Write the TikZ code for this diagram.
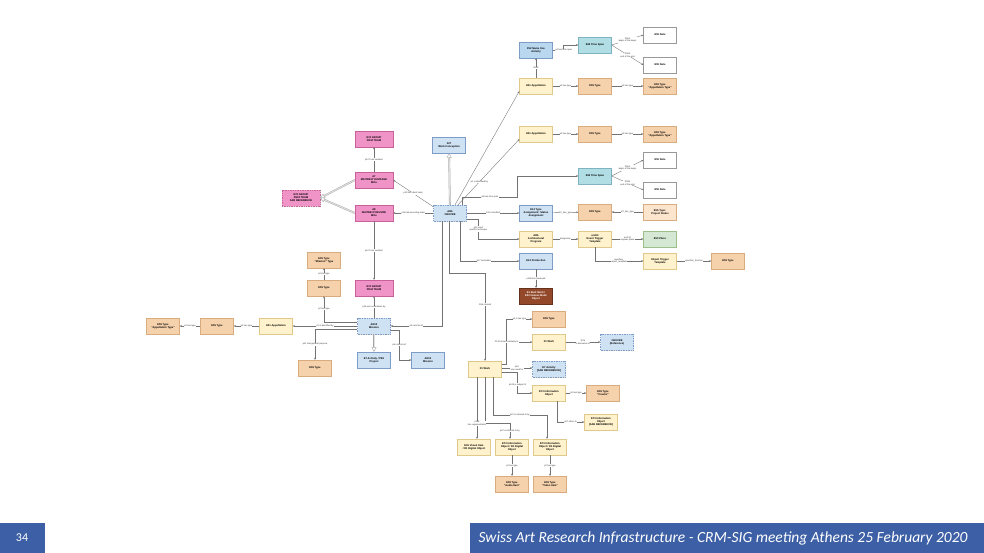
\documentclass[tikz,border=0pt]{standalone}
\usepackage{fontspec}
\setmainfont{Liberation Sans}
\newfontfamily\footfont{Carlito}
\usetikzlibrary{arrows.meta,calc,shadows}
\definecolor{cblue}{HTML}{CFE2F3}
\definecolor{cbluedk}{HTML}{7D9CC8}
\definecolor{cf52}{HTML}{B9D7EE}
\definecolor{cteal}{HTML}{B1DDE5}
\definecolor{ctealdk}{HTML}{7FB3C2}
\definecolor{cyel}{HTML}{FFF2CC}
\definecolor{cyeldk}{HTML}{E0C98A}
\definecolor{ctan}{HTML}{F6D2AC}
\definecolor{ctandk}{HTML}{D9AC80}
\definecolor{ctanl}{HTML}{FCE5CD}
\definecolor{cgreen}{HTML}{D5E8D4}
\definecolor{cgreendk}{HTML}{9CC08A}
\definecolor{cpink}{HTML}{F093C6}
\definecolor{cpinkdk}{HTML}{C8609A}
\definecolor{cbrown}{HTML}{93482A}
\definecolor{footblue}{HTML}{3C5FA5}
\tikzset{
  box/.style={rectangle, minimum width=33pt, minimum height=16pt, inner sep=0.4pt,
    align=center, font=\fontsize{2.6}{3.0}\selectfont\bfseries, line width=0.3pt,
    drop shadow={shadow xshift=0.6pt, shadow yshift=-0.6pt, fill=black!40, opacity=0.4}},
  bl/.style={box, fill=cblue, draw=cbluedk},
  blf/.style={box, fill=cf52, draw=cbluedk},
  tl/.style={box, fill=cteal, draw=ctealdk},
  yl/.style={box, fill=cyel, draw=cyeldk},
  tn/.style={box, fill=ctan, draw=ctandk},
  tnl/.style={box, fill=ctanl, draw=ctandk},
  gr/.style={box, fill=cgreen, draw=cgreendk},
  pk/.style={box, minimum width=38pt, fill=cpink, draw=cpinkdk},
  br/.style={box, fill=cbrown, draw=cbrown!70!black, text=white},
  wt/.style={box, fill=white, draw=black!40},
  dsh/.style={dash pattern=on 1pt off 0.7pt},
  lbl/.style={font=\fontsize{2.2}{2.6}\selectfont, fill=white, inner sep=0.3pt, align=center, text=black!80},
  arr/.style={draw=black!55, line width=0.35pt, -{Stealth[length=2.2pt,width=1.8pt]}},
  subcls/.style={draw=black!35, line width=0.4pt, double=black!12, double distance=1pt,
    -{Triangle[open, length=4.5pt, width=5pt, fill=white]}}
}
\begin{document}
\begin{tikzpicture}[x=1pt,y=-1pt]
\useasboundingbox (0,0) rectangle (984,553);
\fill[white] (0,0) rectangle (984,553);

% ---------- top right ----------
\node[blf] (F52) at (536,50) {F52 Name Use\\Activity};
\node[tl] (TS1) at (595,45) {E52 Time Span};
\node[wt] (D1) at (660,35) {E50 Date};
\node[wt] (D2) at (660,65) {E50 Date};
\node[yl] (E41a) at (536,86) {E41 Appellation};
\node[tn] (T1) at (595,86) {E55 Type};
\node[tn] (TA1) at (660,86) {E55 Type\\``Appellation Type''};
\node[yl] (E41b) at (536,134) {E41 Appellation};
\node[tn] (T2) at (595,134) {E55 Type};
\node[tn] (TA2) at (660,134) {E55 Type\\``Appellation Type''};
\node[tl] (TS2) at (595,176) {E52 Time Span};
\node[wt] (D3) at (660,160) {E50 Date};
\node[wt] (D4) at (660,190) {E50 Date};

% ---------- centre ----------
\node[bl] (F27) at (449,145) {F27\\Work Conception};
\node[bl,dsh] (OEU) at (450,213) {AR6\\OEUVRE};
\node[bl] (E13) at (536,213) {E13 Type\\Assignment: Status\\Assignment};
\node[tn] (T3) at (595,212) {E55 Type};
\node[tnl] (TPS) at (660,212) {E55 Type:\\Project Status};
\node[yl] (AR6) at (536,239) {AR6\\Architectural\\Program};
\node[yl] (ARC) at (595,239) {arcE3\\Event Trigger\\Template};
\node[gr] (PL) at (660,239) {E53 Place};
\node[yl] (OTT) at (660,261) {Object Trigger\\Template};
\node[tn] (T4) at (728,261) {E55 Type};
\node[bl] (E12) at (536,261) {E12 Production};
\node[br] (E1) at (536,296) {E1 Built Work /\\E22 Human-Made\\Object};
\node[tn] (T5) at (549,319) {E55 Type};
\node[yl] (F1m) at (549,342) {F1 Work};
\node[bl,dsh] (OREF) at (617,342) {OEUVRE\\(Reference)};
\node[yl] (F1) at (485,369) {F1 Work};
\node[bl,dsh] (E7S) at (549,369) {E7 Activity\\{[SAR REFERENCE]}};
\node[yl] (E73a) at (549,393) {E73 Information\\Object};
\node[tn] (TC) at (603,393) {E55 Type\\``Creator''};
\node[yl] (E73S) at (601,422) {E73 Information\\Object\\{[SAR REFERENCE]}};
\node[yl] (E36) at (474,447) {E36 Visual Item\\/ D1 Digital Object};
\node[yl] (E73l) at (512,447) {E73 Information\\Object / D1 Digital\\Object};
\node[yl] (E73r) at (550,447) {E73 Information\\Object / D1 Digital\\Object};
\node[tn] (TAu) at (512,484) {E55 Type\\``Audio Item''};
\node[tn] (TV) at (550,484) {E55 Type\\``Video Item''};

% ---------- pink ----------
\node[pk] (G1) at (374,139) {E74 GROUP\\PE34 TEAM};
\node[pk] (A7) at (374,180) {A7\\MAITRE D'OUVRAGE\\MOa};
\node[pk] (A8) at (374,213) {A8\\MAITRE D'OEUVRE\\MOe};
\node[pk,dsh] (GS) at (301,198) {E74 GROUP\\PE34 TEAM\\SAR REFERENCE};
\node[pk] (G2) at (374,288) {E74 GROUP\\PE34 TEAM};

% ---------- mission ----------
\node[tn] (TMT) at (324,260) {E55 Type\\``Mission'' Type};
\node[tn] (TM) at (324,288) {E55 Type};
\node[bl,dsh] (MIS) at (374,326) {AR10\\Mission};
\node[bl] (E7P) at (374,360) {E7 Activity / PE1\\Project};
\node[bl] (MIS2) at (428,360) {AR10\\Mission};
\node[yl] (E41c) at (276,326) {E41 Appellation};
\node[tn] (TL1) at (217,326) {E55 Type};
\node[tn] (TLA) at (163,326) {E55 Type\\``Appellation Type''};
\node[tn] (TG) at (315,368) {E55 Type};

% ---------- connectors: top ----------
\draw[arr] (E41a) -- node[lbl]{R64i} (F52);
\draw[arr] (F52.east) -- ++(11,0) node[lbl]{p4 has time span} |- (TS1.west);
\draw[arr] (TS1.east) -- node[lbl]{P82a\\begin of the begin} (D1.west);
\draw[arr] (TS1.east) -- node[lbl]{P82b\\end of the end} (D2.west);
\draw[arr] (E41a) -- node[lbl]{p2 has type} (T1);
\draw[arr] (T1) -- node[lbl]{p2 has type} (TA1);
\draw[arr] (E41b) -- node[lbl]{p2 has type} (T2);
\draw[arr] (T2) -- node[lbl]{p2 has type} (TA2);
\draw[arr] (TS2.east) -- node[lbl]{P82a\\begin of the begin} (D3.west);
\draw[arr] (TS2.east) -- node[lbl]{P82b\\end of the end} (D4.west);

% ---------- connectors: OEUVRE ----------
\draw[subcls] (OEU) -- (F27);
\draw[arr] ($(OEU.north)+(5,0)$) -- ($(E41a.south west)+(0,-3)$);
\draw[arr] ($(OEU.north)+(8,0)$) -- node[lbl,pos=0.35]{p1 is identified by} ($(E41b.south west)+(0,-3)$);
\draw[arr] ($(OEU.north east)+(-4,0)$) |- node[lbl,pos=0.75]{p4 has time span} ($(TS2.west)+(-61,21)$) |- (TS2.west);
\draw[arr] (OEU.east) -- node[lbl]{P41 classified} (E13.west);
\draw[arr] ($(OEU.east)+(0,6)$) -| node[lbl,pos=0.75]{p32 used\\specific technique} ($(AR6.west)+(-41,0)$) -- (AR6.west);
\draw[arr] ($(OEU.south)+(10,0)$) |- node[lbl,pos=0.7]{p17 motivated} (E12.west);
\draw[arr] ($(OEU.south)+(-1,0)$) |- ($(F1.north)+(0,-88)$) -- node[lbl,pos=0.36]{R16 created} (F1.north);
\draw[arr] ($(OEU.south)+(-8,0)$) |- node[lbl,pos=0.75]{p9 consists of} (MIS.east);

% ---------- connectors: pink ----------
\draw[arr] ($(OEU.north west)+(0,2)$) -- node[lbl]{p10 has client team} (A7.east);
\draw[arr] (OEU.west) -- node[lbl]{p11 had executing team} (A8.east);
\draw[arr] (A7) -- node[lbl]{p107 has member} (G1);
\draw[arr] (A8) -- node[lbl]{p107 has member} (G2);
\draw[subcls] (A7.west) -- (GS.east);
\draw[subcls] (A8.west) -- (GS.east);

% ---------- connectors: mission ----------
\draw[arr] (MIS) -- node[lbl]{p14 was undertaken by} (G2);
\draw[subcls] (MIS) -- (E7P);
\draw[arr] ($(MIS.east)+(0,4)$) -| node[lbl,pos=0.75]{p9 consists of} ($(MIS2.west)+(-12,0)$) -- (MIS2.west);
\draw[arr] ($(MIS.west)+(0,-4)$) -| node[lbl,pos=0.75]{p2 has type} (TM.south);
\draw[arr] (TM) -- node[lbl]{p2 has type} (TMT);
\draw[arr] ($(MIS.west)+(0,3)$) -| node[lbl,pos=0.75]{p21 had general purpose} (TG.north);
\draw[arr] (MIS.west) -- node[lbl]{p1 is identified by} (E41c.east);
\draw[arr] (E41c) -- node[lbl]{p2 has type} (TL1);
\draw[arr] (TL1) -- node[lbl]{p2 has type} (TLA);

% ---------- connectors: right side ----------
\draw[arr] (E13) -- node[lbl]{P2\_has\_type} (T3);
\draw[arr] (TPS) -- node[lbl]{P2\_has\_type} (T3);
\draw[arr] (AR6) -- node[lbl]{designates} (ARC);
\draw[arr] (ARC) -- node[lbl]{arcP11\\requires place} (PL);
\draw[arr] (ARC.south) |- node[lbl,pos=0.75]{specifies\_\\object\_template} (OTT.west);
\draw[arr] (OTT) -- node[lbl]{specifies\_function} (T4);
\draw[arr] (E12) -- node[lbl]{p108 has produced} (E1);

% ---------- connectors: F1 Work ----------
\draw[arr] ($(F1.east)+(0,-5)$) -- ++(5,0) |- node[lbl,pos=0.75]{p2.1 has type} (T5.west);
\draw[arr] ($(F1.east)+(0,-5)$) -- ++(5,0) |- node[lbl,pos=0.5]{P130 shows similarity to} (F1m.west);
\draw[arr] (F1m) -- node[lbl]{R2a\\is derivative of} (OREF);
\draw[arr] ($(F1.east)+(0,-1)$) -- node[lbl]{p16\\was used for} ($(E7S.west)+(0,-1)$);
\draw[arr] ($(F1.east)+(0,3)$) -- ++(16,0) |- node[lbl,pos=0.3]{p129 is subject of} (E73a.west);
\draw[arr] (E73a) -- node[lbl]{p2 has type} (TC);
\draw[arr] ($(E73a.south)+(8,0)$) |- node[lbl,pos=0.75]{p67 refers to} (E73S.west);
\draw[arr] ($(F1.south)+(8,0)$) |- node[lbl,pos=0.75]{p67 is referred to by} ($(E73r.north)+(-3,-24)$) -- ($(E73r.north)+(-3,0)$);
\draw[arr] (F1.south) |- ($(E73l.north)+(-2,-16)$) -- node[lbl]{p67 is referred to by} ($(E73l.north)+(-2,0)$);
\draw[arr] ($(F1.south)+(-8,0)$) -- node[lbl,pos=0.75]{p138\\has representation} ($(E36.north)+(3,0)$);
\draw[arr] (E73l) -- node[lbl]{p2 has type} (TAu);
\draw[arr] (E73r) -- node[lbl]{p2 has type} (TV);

% ---------- footer ----------
\fill[footblue] (0,523) rectangle (45,553);
\node[font=\footfont\fontsize{12}{14}\selectfont, text=white] (pg) at (22,538) {34};
\fill[footblue] (470,523) rectangle (984,553);
\node[font=\footfont\itshape\fontsize{15.5}{17}\selectfont, text=white, anchor=east] (ft) at (971,538) {Swiss Art Research Infrastructure - CRM-SIG meeting Athens 25 February 2020};
\end{tikzpicture}
\end{document}
